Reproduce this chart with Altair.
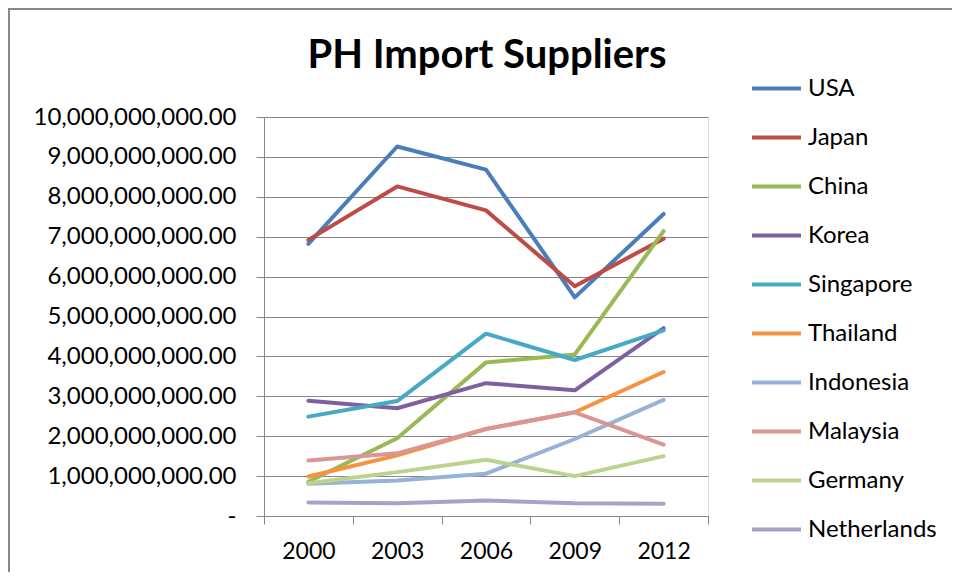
import altair as alt
import pandas as pd

years = ["2000", "2003", "2006", "2009", "2012"]
countries = ["USA", "Japan", "China", "Korea", "Singapore", "Thailand",
             "Indonesia", "Malaysia", "Germany", "Netherlands"]
# values in billions of USD
usa = [6.82, 9.26, 8.68, 5.48, 7.57]
japan = [6.92, 8.26, 7.66, 5.76, 6.95]
china = [0.86, 1.95, 3.85, 4.05, 7.14]
korea = [2.89, 2.70, 3.33, 3.15, 4.71]
singapore = [2.49, 2.88, 4.57, 3.91, 4.65]
thailand = [0.99, 1.52, 2.18, 2.60, 3.61]
indonesia = [0.81, 0.89, 1.06, 1.93, 2.91]
malaysia = [1.39, 1.57, 2.18, 2.60, 1.79]
germany = [0.82, 1.10, 1.41, 1.00, 1.50]
netherlands = [0.34, 0.32, 0.39, 0.32, 0.31]
colors = ["#4A7EBB", "#BE4B48", "#98B954", "#7D60A0", "#46AAC5", "#F69240",
          "#95B3D7", "#D99694", "#BCD38F", "#ADA0C8"]
title_text = "PH Import Suppliers"

series = [usa, japan, china, korea, singapore, thailand, indonesia,
          malaysia, germany, netherlands]
rows = []
for c, vals in zip(countries, series):
    for y, v in zip(years, vals):
        rows.append({"Year": y, "Country": c, "Value": v * 1e9})
df = pd.DataFrame(rows)

FONT = "Lato"

lines = alt.Chart(df).mark_line(strokeWidth=4, strokeCap="round", strokeJoin="round").encode(
    x=alt.X("Year:O", sort=years, title=None,
            scale=alt.Scale(paddingInner=0, paddingOuter=0),
            axis=alt.Axis(tickBand="extent", tickSize=8, labelAngle=0,
                          labelFontSize=23, labelFont=FONT, labelColor="black",
                          labelPadding=16, domainColor="#868686",
                          tickColor="#868686", grid=False)),
    y=alt.Y("Value:Q", title=None,
            scale=alt.Scale(domain=[0, 1e10], nice=False),
            axis=alt.Axis(values=[i * 1e9 for i in range(11)],
                          labelExpr="datum.value == 0 ? '-\u00a0\u00a0\u00a0' : format(datum.value, ',.2f')",
                          tickSize=8, labelFontSize=24, labelFont=FONT,
                          labelColor="black", labelPadding=20, labelLimit=0,
                          gridColor="#868686", domainColor="#868686",
                          tickColor="#868686")),
    color=alt.Color("Country:N", title=None,
                    scale=alt.Scale(domain=countries, range=colors),
                    legend=alt.Legend(orient="none", legendX=486, legendY=-55,
                                      symbolType="stroke", symbolStrokeWidth=4,
                                      symbolSize=2401, labelFontSize=24,
                                      labelFont=FONT, labelColor="black",
                                      labelOffset=5, rowPadding=10, padding=0)),
    order=alt.Order("Year:O"),
)

frame = alt.Chart(pd.DataFrame({"a": [0]})).mark_rect(
    fill=None, stroke="#888888", strokeWidth=2
).encode(
    x=alt.value(-255), x2=alt.value(700), y=alt.value(-108), y2=alt.value(470)
)

title = alt.Chart(pd.DataFrame({"t": [title_text]})).mark_text(
    font=FONT, fontSize=40, fontWeight="bold", color="black",
    align="center", baseline="alphabetic"
).encode(text="t:N", x=alt.value(223), y=alt.value(-49))

chart = alt.layer(frame, lines, title).properties(
    width=444, height=399,
    autosize=alt.AutoSizeParams(type="none"),
    padding={"left": 256, "top": 109, "right": 244, "bottom": 56},
).configure_view(stroke=None).configure(background="white")

chart.save("out.html", embed_options={"renderer": "svg", "actions": False})
